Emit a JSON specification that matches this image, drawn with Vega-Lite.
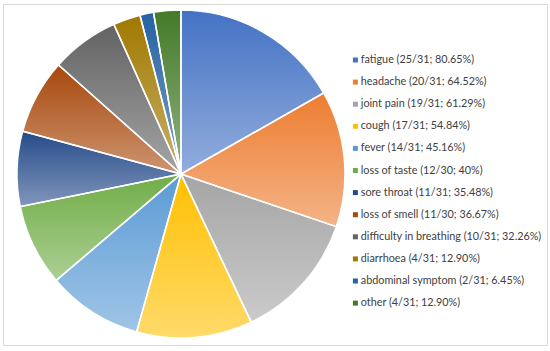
{
  "$schema": "https://vega.github.io/schema/vega-lite/v6.json",
  "width": 544,
  "height": 341,
  "autosize": {"type": "none"},
  "padding": {"left": 3, "top": 4, "right": 3, "bottom": 6},
  "background": "white",
  "view": {"stroke": "#D9D9D9", "strokeWidth": 1, "fill": "white"},
  "config": {
    "view": {"stroke": "#D9D9D9", "strokeWidth": 1},
    "font": "Lato",
    "legend": {"labelLimit": 400, "padding": 0}
  },
  "data": {
    "values": [
      {"idx": 1, "symptom": "fatigue (25/31; 80.65%)", "count": 25},
      {"idx": 2, "symptom": "headache (20/31; 64.52%)", "count": 20},
      {"idx": 3, "symptom": "joint pain (19/31; 61.29%)", "count": 19},
      {"idx": 4, "symptom": "cough (17/31; 54.84%)", "count": 17},
      {"idx": 5, "symptom": "fever (14/31; 45.16%)", "count": 14},
      {"idx": 6, "symptom": "loss of taste (12/30; 40%)", "count": 12},
      {"idx": 7, "symptom": "sore throat (11/31; 35.48%)", "count": 11},
      {"idx": 8, "symptom": "loss of smell (11/30; 36.67%)", "count": 11},
      {"idx": 9, "symptom": "difficulty in breathing (10/31; 32.26%)", "count": 10},
      {"idx": 10, "symptom": "diarrhoea (4/31; 12.90%)", "count": 4},
      {"idx": 11, "symptom": "abdominal symptom (2/31; 6.45%)", "count": 2},
      {"idx": 12, "symptom": "other (4/31; 12.90%)", "count": 4}
    ]
  },
  "encoding": {
    "theta": {"field": "count", "type": "quantitative", "stack": true},
    "order": {"field": "idx", "type": "quantitative"}
  },
  "layer": [
    {
      "mark": {"type": "arc", "outerRadius": 164, "x": 178, "y": 170, "strokeWidth": 0},
      "encoding": {
        "color": {
          "field": "symptom",
          "type": "nominal",
          "sort": null,
          "scale": {
            "domain": [
              "fatigue (25/31; 80.65%)",
              "headache (20/31; 64.52%)",
              "joint pain (19/31; 61.29%)",
              "cough (17/31; 54.84%)",
              "fever (14/31; 45.16%)",
              "loss of taste (12/30; 40%)",
              "sore throat (11/31; 35.48%)",
              "loss of smell (11/30; 36.67%)",
              "difficulty in breathing (10/31; 32.26%)",
              "diarrhoea (4/31; 12.90%)",
              "abdominal symptom (2/31; 6.45%)",
              "other (4/31; 12.90%)"
            ],
            "range": ["#4472C4", "#ED7D31", "#A5A5A5", "#FFC000", "#5B9BD5", "#70AD47", "#264B8A", "#A8480C", "#636363", "#A07800", "#2462A0", "#447A28"]
          },
          "legend": {
            "title": null,
            "orient": "none",
            "legendX": 347,
            "legendY": 50.6,
            "padding": 0,
            "symbolType": "square",
            "symbolSize": 25,
            "symbolStrokeWidth": 0,
            "labelFont": "Lato",
            "labelFontSize": 10.8,
            "labelColor": "#404040",
            "labelOffset": 0,
            "rowPadding": 10.1,
            "labelLimit": 400
          }
        }
      }
    },
    {
      "mark": {
        "type": "arc",
        "outerRadius": 164,
        "x": 178,
        "y": 170,
        "stroke": "white",
        "strokeWidth": 1.5,
        "fill": {
          "gradient": "linear",
          "x1": 0, "y1": 0, "x2": 0, "y2": 1,
          "stops": [
            {"offset": 0, "color": "rgba(255,255,255,0)"},
            {"offset": 1, "color": "rgba(255,255,255,0.42)"}
          ]
        }
      },
      "encoding": {"detail": {"field": "symptom", "type": "nominal"}}
    }
  ]
}
